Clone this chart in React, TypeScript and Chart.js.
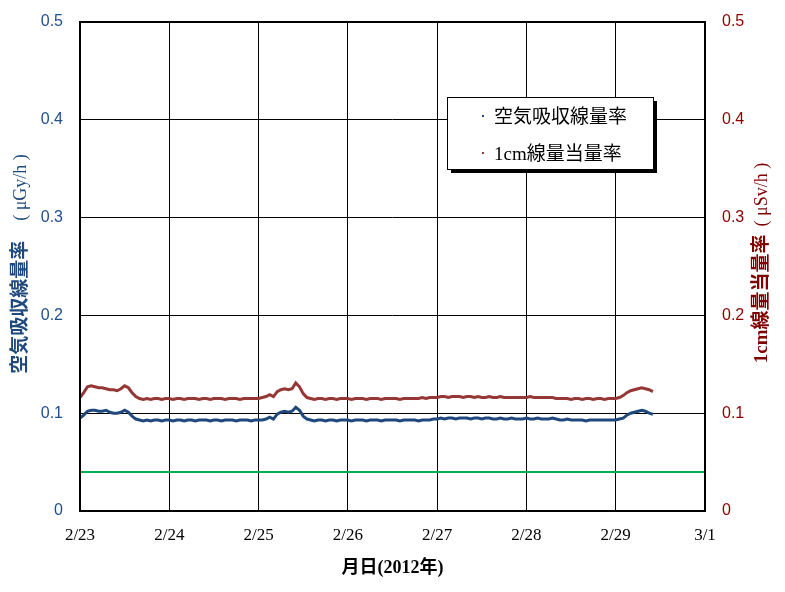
import { useEffect, useRef } from 'react';
import { Chart, registerables } from 'chart.js';

Chart.register(...registerables);

// ---- data ----
const dateLabels = ['2/23', '2/24', '2/25', '2/26', '2/27', '2/28', '2/29', '3/1'];
const seriesNames = ['空気吸収線量率', '1cm線量当量率'];
const startHour = 0;
const sampleHours = 1;
const axisMaxHours = 168;

// 空気吸収線量率 (μGy/h), hourly from 2/23 00:00
const airDoseRate = [
  0.095, 0.098, 0.102, 0.103, 0.103, 0.102, 0.102, 0.103, 0.101, 0.100, 0.100, 0.101, 0.103, 0.101, 0.097, 0.094, 0.093, 0.092, 0.093, 0.092, 0.093, 0.093, 0.092, 0.093,
  0.093, 0.092, 0.093, 0.093, 0.092, 0.093, 0.093, 0.092, 0.093, 0.093, 0.093, 0.092, 0.093, 0.093, 0.092, 0.093, 0.093, 0.093, 0.092, 0.093, 0.093, 0.093, 0.092, 0.093,
  0.093, 0.093, 0.094, 0.096, 0.094, 0.099, 0.101, 0.102, 0.101, 0.102, 0.106, 0.103, 0.097, 0.094, 0.093, 0.092, 0.093, 0.093, 0.092, 0.093, 0.093, 0.092, 0.093, 0.093,
  0.093, 0.092, 0.093, 0.093, 0.093, 0.092, 0.093, 0.093, 0.093, 0.092, 0.093, 0.093, 0.093, 0.093, 0.092, 0.093, 0.093, 0.093, 0.093, 0.092, 0.093, 0.093, 0.093, 0.094,
  0.094, 0.095, 0.094, 0.095, 0.095, 0.094, 0.095, 0.095, 0.095, 0.094, 0.095, 0.095, 0.094, 0.095, 0.095, 0.094, 0.094, 0.095, 0.094, 0.094, 0.095, 0.094, 0.094, 0.094,
  0.095, 0.094, 0.094, 0.095, 0.094, 0.094, 0.094, 0.095, 0.094, 0.093, 0.093, 0.094, 0.093, 0.093, 0.093, 0.093, 0.092, 0.093, 0.093, 0.093, 0.093, 0.093, 0.093, 0.093,
  0.093, 0.094, 0.095, 0.098, 0.100, 0.101, 0.102, 0.103, 0.102, 0.100, 0.099,
];

// 1cm線量当量率 (μSv/h), hourly from 2/23 00:00
const doseEquivRate = [
  0.116, 0.121, 0.127, 0.128, 0.127, 0.126, 0.126, 0.125, 0.124, 0.124, 0.123, 0.125, 0.128, 0.126, 0.121, 0.117, 0.115, 0.114, 0.115, 0.114, 0.115, 0.115, 0.114, 0.115,
  0.115, 0.114, 0.115, 0.115, 0.114, 0.115, 0.115, 0.115, 0.114, 0.115, 0.115, 0.114, 0.115, 0.115, 0.115, 0.114, 0.115, 0.115, 0.115, 0.114, 0.115, 0.115, 0.115, 0.115,
  0.115, 0.116, 0.117, 0.119, 0.117, 0.122, 0.124, 0.125, 0.124, 0.125, 0.131, 0.127, 0.120, 0.116, 0.115, 0.114, 0.115, 0.115, 0.114, 0.115, 0.115, 0.114, 0.115, 0.115,
  0.115, 0.114, 0.115, 0.115, 0.115, 0.114, 0.115, 0.115, 0.115, 0.114, 0.115, 0.115, 0.115, 0.115, 0.114, 0.115, 0.115, 0.115, 0.115, 0.115, 0.116, 0.115, 0.116, 0.116,
  0.116, 0.117, 0.117, 0.116, 0.117, 0.117, 0.117, 0.116, 0.117, 0.117, 0.116, 0.117, 0.116, 0.116, 0.117, 0.116, 0.116, 0.117, 0.116, 0.116, 0.116, 0.116, 0.116, 0.116,
  0.116, 0.117, 0.116, 0.116, 0.116, 0.116, 0.116, 0.116, 0.115, 0.115, 0.115, 0.115, 0.114, 0.115, 0.115, 0.114, 0.115, 0.115, 0.114, 0.115, 0.115, 0.114, 0.115, 0.115,
  0.115, 0.116, 0.118, 0.121, 0.123, 0.124, 0.125, 0.126, 0.125, 0.124, 0.122,
];

const referenceLevel = 0.04;

const leftTitle = ['空気吸収線量率', '( μGy/h )'];
const rightTitle = ['1cm線量当量率', '( μSv/h )'];
const xTitle = '月日(2012年)';

// ---- styling ----
const BLUE = '#1F497D';
const RED = '#953735';
const GREEN = '#00B050';
const SERIF = "'Liberation Serif', 'Noto Sans CJK JP', serif";
const SANS = "'Liberation Sans', Arial, sans-serif";

function drawRotatedTitle(ctx: CanvasRenderingContext2D, cx: number, cy: number, parts: string[], color: string, gap: number) {
  ctx.save();
  ctx.translate(cx, cy);
  ctx.rotate(-Math.PI / 2);
  ctx.fillStyle = color;
  ctx.textBaseline = 'middle';
  ctx.textAlign = 'left';
  const fontA = `bold 19px ${SERIF}`;
  const fontB = `18px ${SERIF}`;
  ctx.font = fontA;
  const wA = ctx.measureText(parts[0]).width;
  ctx.font = fontB;
  const wB = ctx.measureText(parts[1]).width;
  const total = wA + gap + wB;
  let x = -total / 2;
  ctx.font = fontA;
  ctx.fillText(parts[0], x, 0);
  x += wA + gap;
  ctx.font = fontB;
  ctx.fillText(parts[1], x, 0);
  ctx.restore();
}

const decorPlugin = {
  id: 'decor',
  afterDraw(chart: any) {
    const { ctx, chartArea: a } = chart;
    ctx.save();
    // plot border
    ctx.strokeStyle = '#000';
    ctx.lineWidth = 2;
    ctx.strokeRect(a.left, a.top, a.right - a.left, a.bottom - a.top);

    // legend box
    const lx = a.left + 367;
    const ly = a.top + 75;
    const lw = 206;
    const lh = 72;
    ctx.fillStyle = '#000';
    ctx.fillRect(lx + 4, ly + 4, lw, lh);
    ctx.fillStyle = '#fff';
    ctx.fillRect(lx, ly, lw, lh);
    ctx.lineWidth = 1;
    ctx.strokeStyle = '#000';
    ctx.strokeRect(lx + 0.5, ly + 0.5, lw, lh);

    const colors = [BLUE, RED];
    const rows = [ly + 21, ly + 58];
    ctx.font = `19px ${SERIF}`;
    ctx.textBaseline = 'middle';
    ctx.textAlign = 'left';
    seriesNames.forEach((name, i) => {
      ctx.fillStyle = colors[i];
      ctx.fillRect(lx + 35, rows[i] - 3, 2, 2);
      ctx.fillStyle = '#000';
      ctx.fillText(name, lx + 47, rows[i]);
    });

    // axis titles
    drawRotatedTitle(ctx, 21, 264, leftTitle, BLUE, 20);
    drawRotatedTitle(ctx, 762, 263, rightTitle, '#800000', 8);
    ctx.restore();
  },
};

export default function App() {
  const ref = useRef<HTMLCanvasElement | null>(null);

  useEffect(() => {
    if (!ref.current) return;
    const toPoints = (arr: number[]) => arr.map((v, i) => ({ x: startHour + i * sampleHours, y: v }));
    const chart = new Chart(ref.current, {
      type: 'line',
      data: {
        datasets: [
          {
            label: 'reference',
            data: [{ x: 0, y: referenceLevel }, { x: axisMaxHours, y: referenceLevel }],
            borderColor: GREEN,
            borderWidth: 2,
            pointRadius: 0,
            yAxisID: 'y',
          },
          {
            label: seriesNames[0],
            data: toPoints(airDoseRate),
            borderColor: BLUE,
            borderWidth: 3,
            pointRadius: 0,
            tension: 0,
            yAxisID: 'y',
          },
          {
            label: seriesNames[1],
            data: toPoints(doseEquivRate),
            borderColor: RED,
            borderWidth: 3,
            pointRadius: 0,
            tension: 0,
            yAxisID: 'y2',
          },
        ],
      },
      options: {
        animation: false,
        responsive: false,
        devicePixelRatio: 1,
        layout: { padding: { top: 22, left: 0, right: 0, bottom: 0 } },
        plugins: { legend: { display: false }, tooltip: { enabled: false } },
        scales: {
          x: {
            type: 'linear',
            min: 0,
            max: axisMaxHours,
            afterFit: (s: any) => { s.height = 81; },
            afterBuildTicks: (s: any) => {
              s.ticks = dateLabels.map((_, i) => ({ value: i * 24 }));
            },
            ticks: {
              autoSkip: false,
              maxRotation: 0,
              padding: 14,
              color: '#000',
              font: { family: SERIF, size: 17 },
              callback: (v: any) => dateLabels[Math.round(Number(v) / 24)],
            },
            grid: { color: '#000', lineWidth: 1, drawTicks: false },
            border: { display: false },
            title: {
              display: true,
              text: xTitle,
              color: '#000',
              font: { family: SERIF, size: 18, weight: 'bold' },
              padding: { top: 0, bottom: 13 },
            },
          },
          y: {
            position: 'left',
            min: 0,
            max: 0.5,
            afterFit: (s: any) => { s.width = 80; },
            ticks: {
              stepSize: 0.1,
              padding: 4,
              color: '#1F4E8C',
              font: { family: SANS, size: 16 },
              callback: (v: any) => String(Math.round(Number(v) * 10) / 10),
            },
            grid: { color: '#000', lineWidth: 1, drawTicks: true, tickLength: 13, tickColor: 'rgba(0,0,0,0)' },
            border: { display: false },
          },
          y2: {
            position: 'right',
            min: 0,
            max: 0.5,
            afterFit: (s: any) => { s.width = 80; },
            ticks: {
              stepSize: 0.1,
              padding: 4,
              color: '#8B0000',
              font: { family: SANS, size: 16 },
              callback: (v: any) => String(Math.round(Number(v) * 10) / 10),
            },
            grid: { display: false, drawTicks: true, tickLength: 13, tickColor: 'rgba(0,0,0,0)' },
            border: { display: false },
          },
        },
      },
      plugins: [decorPlugin],
    });
    return () => chart.destroy();
  }, []);

  return (
    <div style={{ position: 'fixed', left: 0, top: 0, width: 785, height: 592, background: '#fff' }}>
      <canvas ref={ref} width={785} height={592} style={{ display: 'block', width: 785, height: 592 }} />
    </div>
  );
}
